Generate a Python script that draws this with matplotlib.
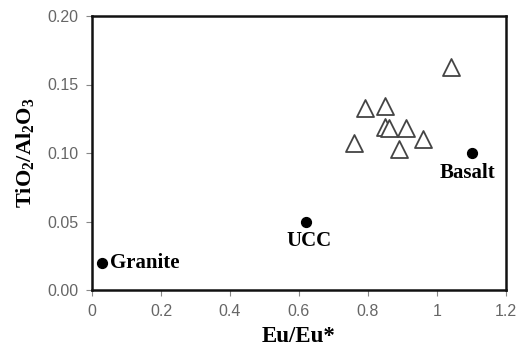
import matplotlib
matplotlib.use("Agg")
from matplotlib import pyplot as plt
from matplotlib.ticker import FixedLocator

plt.rcParams["mathtext.fontset"] = "custom"
plt.rcParams["mathtext.bf"] = "Liberation Serif:bold"
plt.rcParams["mathtext.rm"] = "Liberation Serif:bold"

# Samples (open triangles)
eu_samples = [1.04, 0.79, 0.85, 0.85, 0.86, 0.91, 0.76, 0.89, 0.96]
ti_samples = [0.163, 0.133, 0.134, 0.119, 0.118, 0.118, 0.107, 0.103, 0.110]

# Reference compositions (filled dots)
ref_names = ["Granite", "UCC", "Basalt"]
eu_ref = [0.028, 0.62, 1.10]
ti_ref = [0.020, 0.050, 0.100]

x_ticks = [0, 0.2, 0.4, 0.6, 0.8, 1.0, 1.2]
x_labels = ["0", "0.2", "0.4", "0.6", "0.8", "1", "1.2"]
y_ticks = [0.00, 0.05, 0.10, 0.15, 0.20]

fig = plt.figure(figsize=(5.19, 3.62), dpi=100)
ax = fig.add_axes([92 / 519, 1 - 290 / 362, (506 - 92) / 519, (290 - 16) / 362])

ax.scatter(eu_samples, ti_samples, marker="^", s=150, facecolors="white",
           edgecolors="#444444", linewidths=1.3, zorder=3)
ax.scatter(eu_ref, ti_ref, marker="o", s=50, color="black", zorder=3)

serif = "Liberation Serif"
ax.annotate(ref_names[0], (eu_ref[0], ti_ref[0]), xytext=(6, 0), textcoords="offset points",
            ha="left", va="center", fontsize=15, fontweight="bold", family=serif)
ax.annotate(ref_names[1], (eu_ref[1], ti_ref[1]), xytext=(2, -7), textcoords="offset points",
            ha="center", va="top", fontsize=15, fontweight="bold", family=serif)
ax.annotate(ref_names[2], (eu_ref[2], ti_ref[2]), xytext=(-3, -7), textcoords="offset points",
            ha="center", va="top", fontsize=15, fontweight="bold", family=serif)

ax.set_xlim(0, 1.2)
ax.set_ylim(0, 0.2)
ax.xaxis.set_major_locator(FixedLocator(x_ticks))
ax.set_xticklabels(x_labels)
ax.yaxis.set_major_locator(FixedLocator(y_ticks))
ax.set_yticklabels([f"{v:.2f}" for v in y_ticks])

for s in ax.spines.values():
    s.set_linewidth(1.8)
    s.set_color("#111111")

ax.tick_params(direction="out", length=4, width=0.8, color="#888888",
               labelcolor="#666666", labelsize=11.5, pad=6)
for lab in ax.get_xticklabels() + ax.get_yticklabels():
    lab.set_family("Liberation Sans")

ax.set_xlabel("Eu/Eu*", fontsize=16.5, fontweight="bold", family=serif, labelpad=5)
ax.set_ylabel(r"TiO$_\mathbf{2}$/Al$_\mathbf{2}$O$_\mathbf{3}$", fontsize=16,
              fontweight="bold", family=serif, labelpad=7)

fig.savefig("out.png", dpi=100)
